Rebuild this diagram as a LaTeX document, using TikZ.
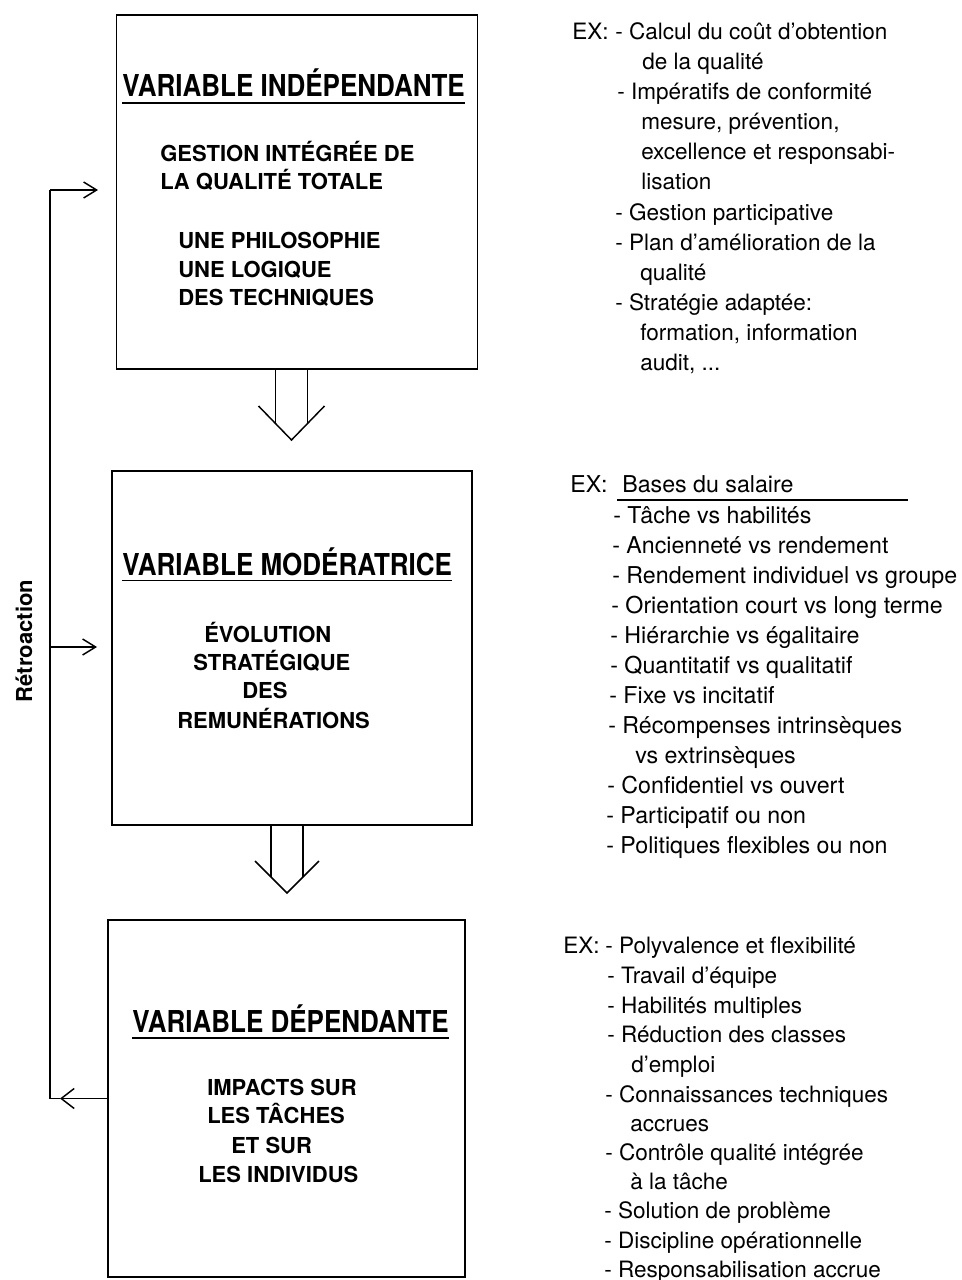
\documentclass[tikz,border=0pt]{standalone}
\usepackage{fontspec}
\setmainfont{TeX Gyre Heros}
\usetikzlibrary{arrows.meta,calc}
\newcommand{\tallcaps}[1]{\scalebox{1}[1.16]{#1}}
\begin{document}
\begin{tikzpicture}[x=0.75pt,y=-0.75pt,
  box/.style={draw, line width=1.4pt, inner sep=0pt, outer sep=0pt},
  ttl/.style={anchor=base west, inner sep=0pt, font=\bfseries\fontsize{19.5}{22}\selectfont},
  body/.style={anchor=base west, inner sep=0pt, font=\bfseries\fontsize{16.5}{20}\selectfont},
  itm/.style={anchor=base west, inner sep=0pt, font=\fontsize{16.9}{20}\selectfont},
  itmb/.style={anchor=base west, inner sep=0pt, font=\fontsize{17.4}{20}\selectfont},
  conn/.style={line width=1.1pt},
  uline/.style={line width=1.1pt},
  barb/.style={-{Straight Barb[length=9.75pt,width=12pt,line width=1.1pt]}},
]
\useasboundingbox (0,0) rectangle (962,1280);

% ---- the three variable boxes
\node[box, minimum width=270.75pt, minimum height=265.5pt] (b1) at (297,192) {};
\node[box, minimum width=270pt, minimum height=265.5pt] (b2) at (292,648) {};
\node[box, minimum width=267.75pt, minimum height=267.75pt] (b3) at (286.5,1098.5) {};

% ---- box 1
\node[ttl] (h1) at (122,97) {\tallcaps{VARIABLE INDÉPENDANTE}};
\draw[uline] ([yshift=-4.5pt]h1.base west) -- ([yshift=-4.5pt]h1.base east);
\node[body] (g1) at (160,162) {GESTION INTÉGRÉE DE};
\node[body] (g2) at (160,190) {LA QUALITÉ TOTALE};
\node[body] (g3) at (178,248) {UNE PHILOSOPHIE};
\node[body] (g4) at (178,277) {UNE LOGIQUE};
\node[body] (g5) at (178,305) {DES TECHNIQUES};

% ---- box 2
\node[ttl] (h2) at (122,575) {\tallcaps{VARIABLE MODÉRATRICE}};
\draw[uline] ([yshift=-4pt]h2.base west) -- ([yshift=-4pt]h2.base east);
\node[body] (m1) at (204,642) {ÉVOLUTION};
\node[body] (m2) at (193,670) {STRATÉGIQUE};
\node[body] (m3) at (242,698) {DES};
\node[body] (m4) at (177,728) {REMUNÉRATIONS};

% ---- box 3
\node[ttl] (h3) at (132,1032) {\tallcaps{VARIABLE DÉPENDANTE}};
\draw[uline] ([yshift=-4.5pt]h3.base west) -- ([yshift=-4.5pt]h3.base east);
\node[body] (d1) at (207,1095) {IMPACTS SUR};
\node[body] (d2) at (207,1123) {LES TÂCHES};
\node[body] (d3) at (231,1153) {ET SUR};
\node[body] (d4) at (198,1182) {LES INDIVIDUS};

% ---- hollow arrows between the boxes
\coordinate (t1) at (291.5,440);
\draw[conn] ([xshift=-12pt]t1 |- b1.south) -- ([xshift=-12pt,yshift=12.4pt]t1);
\draw[conn] ([xshift=12pt]t1 |- b1.south) -- ([xshift=12pt,yshift=12.4pt]t1);
\draw[conn] ([xshift=-24.75pt,yshift=25.5pt]t1) -- (t1) -- ([xshift=24.75pt,yshift=25.5pt]t1);

\coordinate (t2) at (287,893);
\draw[conn] ([xshift=-12pt]t2 |- b2.south) -- ([xshift=-12pt,yshift=12pt]t2);
\draw[conn] ([xshift=12pt]t2 |- b2.south) -- ([xshift=12pt,yshift=12pt]t2);
\draw[conn] ([xshift=-24pt,yshift=24pt]t2) -- (t2) -- ([xshift=24pt,yshift=24pt]t2);

% ---- feedback loop
\coordinate (fb1) at (50,190);
\coordinate (fb2) at (50,647);
\coordinate (fb3) at (b3.west -| fb1);
\coordinate (e1) at (98,190);
\coordinate (e2) at (97,647);
\coordinate (e3) at ([xshift=7.5pt]fb3);
\draw[conn] (fb3) -- (fb1);
\draw[conn, barb] (fb1) -- (e1);
\draw[conn, barb] (fb2) -- (e2);
\draw[conn, -{Straight Barb[length=9.75pt,width=15pt,line width=1.1pt]}] (b3.west) -- (e3);
\draw[conn] (e3) -- (fb3);
\node[font=\bfseries\fontsize{16.5}{20}\selectfont, rotate=90, inner sep=0pt] (retro) at (24,641) {Rétroaction};

% ---- examples for the independent variable
\node[itm] (x1) at (572,40) {EX:};
\node[itm] (a1) at (615,40) {- Calcul du coût d’obtention};
\node[itm] (a2) at (642,70) {de la qualité};
\node[itm] (a3) at (617,100) {- Impératifs de conformité};
\node[itm] (a4) at (641,130) {mesure, prévention,};
\node[itm] (a5) at (641,160) {excellence et responsabi-};
\node[itm] (a6) at (641,190) {lisation};
\node[itm] (a7) at (615,220) {- Gestion participative};
\node[itm] (a8) at (615,250) {- Plan d’amélioration de la};
\node[itm] (a9) at (640,280) {qualité};
\node[itm] (a10) at (615,310) {- Stratégie adaptée:};
\node[itm] (a11) at (640,340) {formation, information};
\node[itm] (a12) at (640,370) {audit, ...};

% ---- examples for the moderating variable
\node[itmb] (x2) at (570,492) {EX:};
\node[itmb] (bases) at (622,492) {Bases du salaire};
\draw[line width=0.8pt] ([xshift=-3.75pt,yshift=-6pt]bases.base west) -- ++(291,0);
\node[itmb] (s1) at (613,523) {- Tâche vs habilités};
\node[itmb] (s2) at (612,553) {- Ancienneté vs rendement};
\node[itmb] (s3) at (612,583) {- Rendement individuel vs groupe};
\node[itmb] (s4) at (611,613) {- Orientation court vs long terme};
\node[itmb] (s5) at (610,643) {- Hiérarchie vs égalitaire};
\node[itmb] (s6) at (610,673) {- Quantitatif vs qualitatif};
\node[itmb] (s7) at (609,703) {- Fixe vs incitatif};
\node[itmb] (s8) at (608,733) {- Récompenses intrinsèques};
\node[itmb] (s9) at (635,763) {vs extrinsèques};
\node[itmb] (s10) at (607,793) {- Confidentiel vs ouvert};
\node[itmb] (s11) at (606,823) {- Participatif ou non};
\node[itmb] (s12) at (606,853) {- Politiques flexibles ou non};

% ---- examples for the dependent variable
\node[itm] (x3) at (563,953) {EX:};
\node[itm] (c1) at (605,953) {- Polyvalence et flexibilité};
\node[itm] (c2) at (607,983) {- Travail d’équipe};
\node[itm] (c3) at (607,1013) {- Habilités multiples};
\node[itm] (c4) at (607,1042) {- Réduction des classes};
\node[itm] (c5) at (631,1072) {d’emploi};
\node[itm] (c6) at (605,1102) {- Connaissances techniques};
\node[itm] (c7) at (630,1131) {accrues};
\node[itm] (c8) at (605,1160) {- Contrôle qualité intégrée};
\node[itm] (c9) at (630,1189) {à la tâche};
\node[itm] (c10) at (604,1218) {- Solution de problème};
\node[itm] (c11) at (604,1248) {- Discipline opérationnelle};
\node[itm] (c12) at (604,1277) {- Responsabilisation accrue};
\end{tikzpicture}
\end{document}
